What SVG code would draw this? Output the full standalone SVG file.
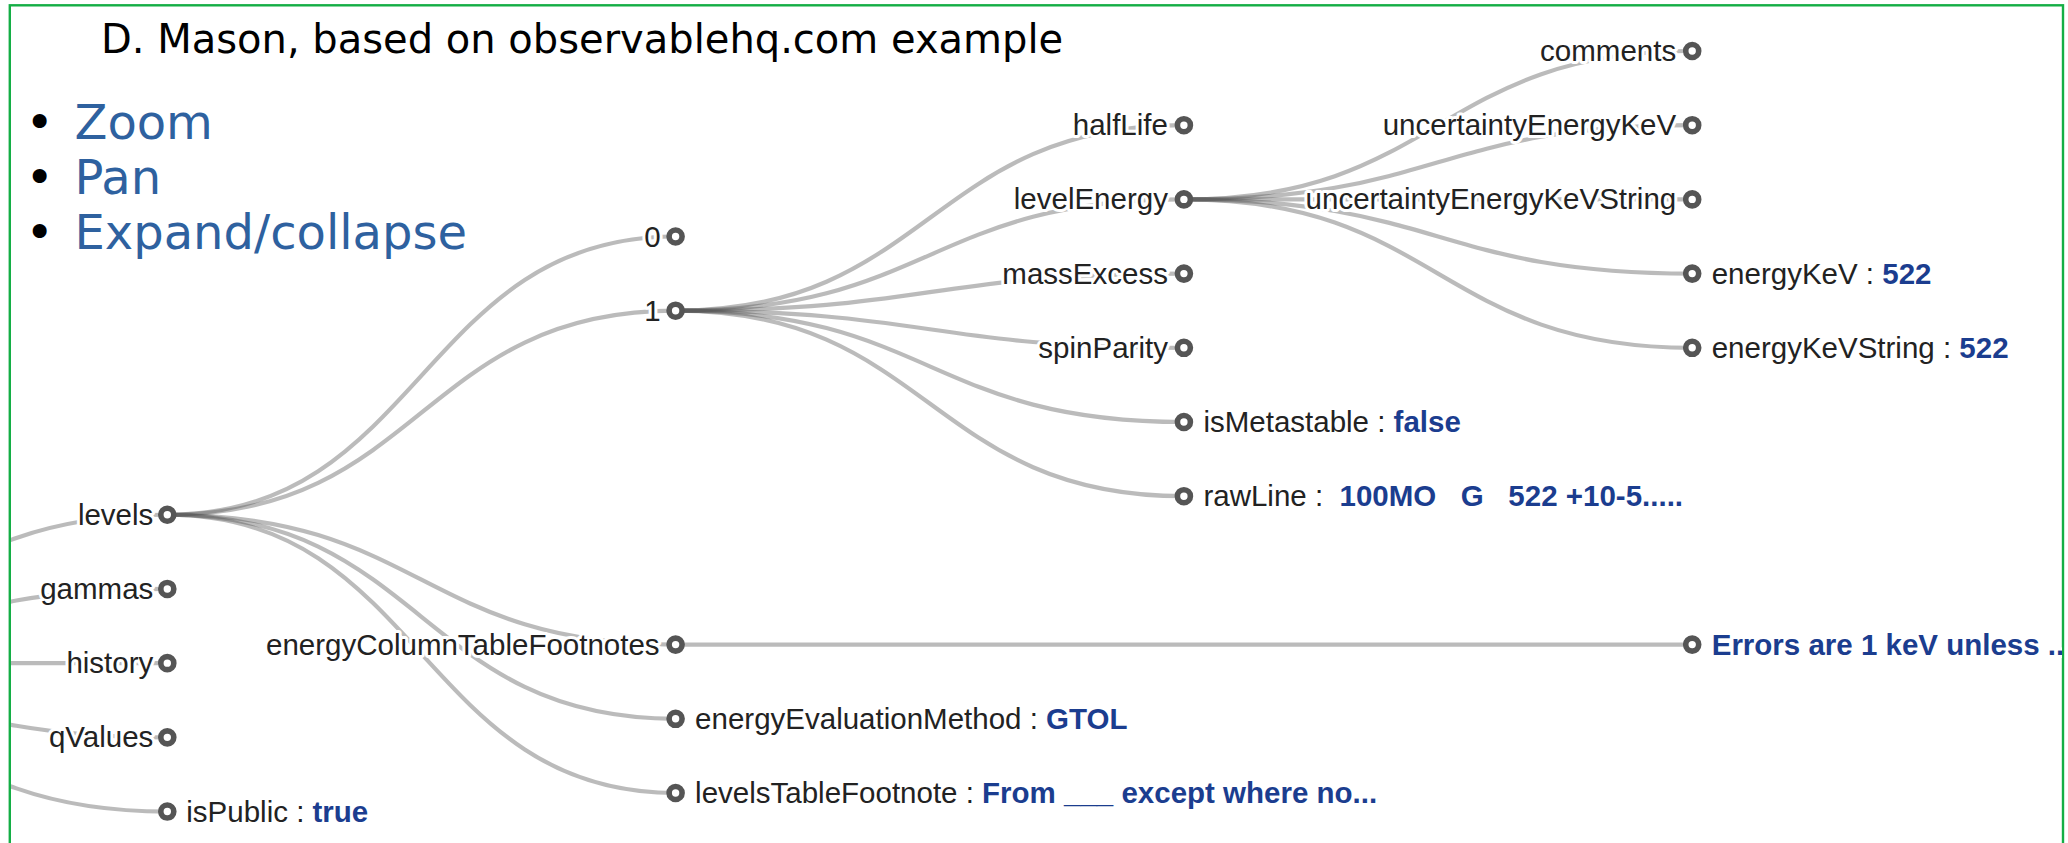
<svg xmlns="http://www.w3.org/2000/svg" width="2068" height="843" viewBox="0 0 2068 843">
<style>
.title{font-family:"DejaVu Sans",sans-serif;font-size:40px;fill:#000}
.menu{font-family:"DejaVu Sans",sans-serif;font-size:48px;fill:#2e619f}
.bul{font-family:"DejaVu Sans",sans-serif;font-size:48px;fill:#000;text-anchor:middle}
.link{fill:none;stroke:#555;stroke-opacity:0.4;stroke-width:4.2}
.node circle{fill:#fff;stroke:#555;stroke-width:5.6}
.node text{font-family:"Liberation Sans",Arial,sans-serif;font-size:29.5px;fill:#222;stroke:#fff;stroke-width:6;stroke-linejoin:round;paint-order:stroke;white-space:pre}
.node text.l{text-anchor:end}
.v{font-weight:bold;fill:#1b3d8f}
</style>
<defs>
<clipPath id="frame"><rect x="11" y="6" width="2051" height="837"/></clipPath>
</defs>
<rect x="9.8" y="5.3" width="2053.2" height="900" fill="none" stroke="#14ae45" stroke-width="2.4"/>
<text class="title" x="101" y="53">D. Mason, based on observablehq.com example</text>
<g id="menu">
<text class="bul" x="39.6" y="139">•</text><text class="menu" x="74.5" y="139">Zoom</text>
<text class="bul" x="39.6" y="194">•</text><text class="menu" x="74.5" y="194">Pan</text>
<text class="bul" x="39.6" y="249">•</text><text class="menu" x="74.5" y="249">Expand/collapse</text>
</g>
<g clip-path="url(#frame)">
<g id="links">
<path class="link" d="M-341,663.15C-86.85,663.15 -86.85,514.75 167.3,514.75"/>
<path class="link" d="M-341,663.15C-86.85,663.15 -86.85,588.95 167.3,588.95"/>
<path class="link" d="M-341,663.15C-86.85,663.15 -86.85,663.15 167.3,663.15"/>
<path class="link" d="M-341,663.15C-86.85,663.15 -86.85,737.35 167.3,737.35"/>
<path class="link" d="M-341,663.15C-86.85,663.15 -86.85,811.55 167.3,811.55"/>
<path class="link" d="M167.3,514.75C421.45,514.75 421.45,236.5 675.6,236.5"/>
<path class="link" d="M167.3,514.75C421.45,514.75 421.45,310.7 675.6,310.7"/>
<path class="link" d="M167.3,514.75C421.45,514.75 421.45,644.6 675.6,644.6"/>
<path class="link" d="M167.3,514.75C421.45,514.75 421.45,718.8 675.6,718.8"/>
<path class="link" d="M167.3,514.75C421.45,514.75 421.45,793 675.6,793"/>
<path class="link" d="M675.6,310.7C929.75,310.7 929.75,125.2 1183.9,125.2"/>
<path class="link" d="M675.6,310.7C929.75,310.7 929.75,199.4 1183.9,199.4"/>
<path class="link" d="M675.6,310.7C929.75,310.7 929.75,273.6 1183.9,273.6"/>
<path class="link" d="M675.6,310.7C929.75,310.7 929.75,347.8 1183.9,347.8"/>
<path class="link" d="M675.6,310.7C929.75,310.7 929.75,422 1183.9,422"/>
<path class="link" d="M675.6,310.7C929.75,310.7 929.75,496.2 1183.9,496.2"/>
<path class="link" d="M1183.9,199.4C1438.05,199.4 1438.05,51 1692.2,51"/>
<path class="link" d="M1183.9,199.4C1438.05,199.4 1438.05,125.2 1692.2,125.2"/>
<path class="link" d="M1183.9,199.4C1438.05,199.4 1438.05,199.4 1692.2,199.4"/>
<path class="link" d="M1183.9,199.4C1438.05,199.4 1438.05,273.6 1692.2,273.6"/>
<path class="link" d="M1183.9,199.4C1438.05,199.4 1438.05,347.8 1692.2,347.8"/>
<path class="link" d="M675.6,644.6H1692.2"/>
</g>
<g id="n-levels" class="node" transform="translate(167.3,514.75)"><circle r="6.5"/><text class="l" x="-14" y="10">levels</text></g>
<g id="n-gammas" class="node" transform="translate(167.3,588.95)"><circle r="6.5"/><text class="l" x="-14" y="10">gammas</text></g>
<g id="n-history" class="node" transform="translate(167.3,663.15)"><circle r="6.5"/><text class="l" x="-14" y="10">history</text></g>
<g id="n-qValues" class="node" transform="translate(167.3,737.35)"><circle r="6.5"/><text class="l" x="-14" y="10">qValues</text></g>
<g id="n-isPublic" class="node" transform="translate(167.3,811.55)"><circle r="6.5"/><text x="19" y="10">isPublic : <tspan class="v">true</tspan></text></g>
<g id="n-0" class="node" transform="translate(675.6,236.5)"><circle r="6.5"/><text class="l" x="-15" y="10">0</text></g>
<g id="n-1" class="node" transform="translate(675.6,310.7)"><circle r="6.5"/><text class="l" x="-15" y="10">1</text></g>
<g id="n-energyColumnTableFootnotes" class="node" transform="translate(675.6,644.6)"><circle r="6.5"/><text class="l" x="-16" y="10">energyColumnTableFootnotes</text></g>
<g id="n-energyEvaluationMethod" class="node" transform="translate(675.6,718.8)"><circle r="6.5"/><text x="19.5" y="10">energyEvaluationMethod : <tspan class="v">GTOL</tspan></text></g>
<g id="n-levelsTableFootnote" class="node" transform="translate(675.6,793)"><circle r="6.5"/><text x="19.5" y="10">levelsTableFootnote : <tspan class="v">From ___ except where no...</tspan></text></g>
<g id="n-halfLife" class="node" transform="translate(1183.9,125.2)"><circle r="6.5"/><text class="l" x="-16" y="10">halfLife</text></g>
<g id="n-levelEnergy" class="node" transform="translate(1183.9,199.4)"><circle r="6.5"/><text class="l" x="-16" y="10">levelEnergy</text></g>
<g id="n-massExcess" class="node" transform="translate(1183.9,273.6)"><circle r="6.5"/><text class="l" x="-16" y="10">massExcess</text></g>
<g id="n-spinParity" class="node" transform="translate(1183.9,347.8)"><circle r="6.5"/><text class="l" x="-16" y="10">spinParity</text></g>
<g id="n-isMetastable" class="node" transform="translate(1183.9,422)"><circle r="6.5"/><text x="19.5" y="10">isMetastable : <tspan class="v">false</tspan></text></g>
<g id="n-rawLine" class="node" transform="translate(1183.9,496.2)"><circle r="6.5"/><text x="19.5" y="10">rawLine : <tspan class="v"> 100MO   G   522 +10-5.....</tspan></text></g>
<g id="n-comments" class="node" transform="translate(1692.2,51)"><circle r="6.5"/><text class="l" x="-16" y="10">comments</text></g>
<g id="n-uncertaintyEnergyKeV" class="node" transform="translate(1692.2,125.2)"><circle r="6.5"/><text class="l" x="-16" y="10">uncertaintyEnergyKeV</text></g>
<g id="n-uncertaintyEnergyKeVString" class="node" transform="translate(1692.2,199.4)"><circle r="6.5"/><text class="l" x="-16" y="10">uncertaintyEnergyKeVString</text></g>
<g id="n-energyKeV" class="node" transform="translate(1692.2,273.6)"><circle r="6.5"/><text x="19.5" y="10">energyKeV : <tspan class="v">522</tspan></text></g>
<g id="n-energyKeVString" class="node" transform="translate(1692.2,347.8)"><circle r="6.5"/><text x="19.5" y="10">energyKeVString : <tspan class="v">522</tspan></text></g>
<g id="n-errors" class="node" transform="translate(1692.2,644.6)"><circle r="6.5"/><text x="19.5" y="10"><tspan class="v">Errors are 1 keV unless ...</tspan></text></g>
</g>
</svg>
